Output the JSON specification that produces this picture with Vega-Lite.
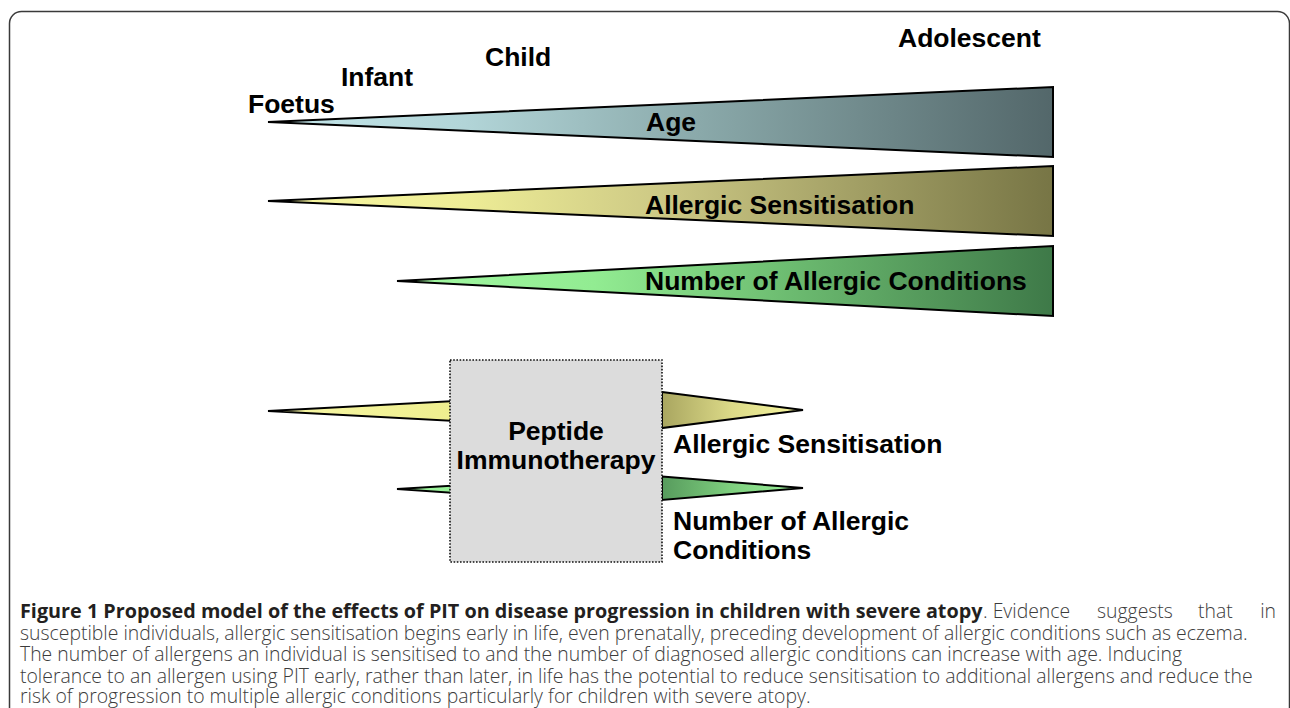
{
  "$schema": "https://vega.github.io/schema/vega-lite/v6.json",
  "width": 1290,
  "height": 708,
  "padding": 0,
  "autosize": {"type": "fit", "contains": "padding"},
  "background": "white",
  "config": {"view": {"stroke": null}},
  "datasets": {
    "frame": [{"x": 9.5, "x2": 1289.5, "y": 11.5, "y2": 760}],
    "box": [{"x": 450, "x2": 662, "y": 360, "y2": 562}],
    "shapes": [
      {"shape": "age", "x": 268, "y": 122, "y2": 122},
      {"shape": "age", "x": 1053, "y": 87, "y2": 157},
      {"shape": "sens", "x": 268, "y": 201, "y2": 201},
      {"shape": "sens", "x": 1053, "y": 166, "y2": 236},
      {"shape": "num", "x": 397, "y": 281, "y2": 281},
      {"shape": "num", "x": 1053, "y": 246, "y2": 316},
      {"shape": "sensIn", "x": 268, "y": 411, "y2": 411},
      {"shape": "sensIn", "x": 455, "y": 401, "y2": 421},
      {"shape": "numIn", "x": 397, "y": 489, "y2": 489},
      {"shape": "numIn", "x": 455, "y": 485.5, "y2": 493},
      {"shape": "sensOut", "x": 662, "y": 392, "y2": 428},
      {"shape": "sensOut", "x": 803, "y": 410, "y2": 410},
      {"shape": "numOut", "x": 662, "y": 476.5, "y2": 500},
      {"shape": "numOut", "x": 803, "y": 488, "y2": 488}
    ],
    "labels": [
      {"kind": "left", "x": 248, "y": 113, "text": "Foetus"},
      {"kind": "left", "x": 341, "y": 86, "text": "Infant"},
      {"kind": "left", "x": 485, "y": 66, "text": "Child"},
      {"kind": "left", "x": 898, "y": 47, "text": "Adolescent"},
      {"kind": "left", "x": 646, "y": 131, "text": "Age"},
      {"kind": "left", "x": 645, "y": 214, "text": "Allergic Sensitisation"},
      {"kind": "left", "x": 645, "y": 290, "text": "Number of Allergic Conditions"},
      {"kind": "left", "x": 673, "y": 453, "text": "Allergic Sensitisation"},
      {"kind": "left", "x": 673, "y": 530, "text": "Number of Allergic"},
      {"kind": "left", "x": 673, "y": 559, "text": "Conditions"},
      {"kind": "center", "x": 556, "y": 440, "text": "Peptide"},
      {"kind": "center", "x": 556, "y": 469, "text": "Immunotherapy"}
    ],
    "caption": [
      {"kind": "bold", "x": 20, "y": 618, "text": "Figure 1 Proposed model of the effects of PIT on disease progression in children with severe atopy"},
      {"kind": "plain", "x": 983, "y": 618, "text": ". Evidence"},
      {"kind": "plain", "x": 1097, "y": 618, "text": "suggests"},
      {"kind": "plain", "x": 1198, "y": 618, "text": "that"},
      {"kind": "tail", "x": 1276, "y": 618, "text": "in"},
      {"kind": "plain", "x": 20, "y": 639.5, "text": "susceptible individuals, allergic sensitisation begins early in life, even prenatally, preceding development of allergic conditions such as eczema."},
      {"kind": "plain", "x": 20, "y": 661, "text": "The number of allergens an individual is sensitised to and the number of diagnosed allergic conditions can increase with age. Inducing"},
      {"kind": "plain", "x": 20, "y": 682.5, "text": "tolerance to an allergen using PIT early, rather than later, in life has the potential to reduce sensitisation to additional allergens and reduce the"},
      {"kind": "plain", "x": 20, "y": 703, "text": "risk of progression to multiple allergic conditions particularly for children with severe atopy."}
    ]
  },
  "encoding": {
    "x": {"field": "x", "type": "quantitative", "axis": null, "scale": {"domain": [0, 1290], "nice": false, "zero": false}},
    "y": {"field": "y", "type": "quantitative", "axis": null, "stack": null, "scale": {"domain": [0, 708], "nice": false, "zero": false, "reverse": true}}
  },
  "layer": [
    {
      "data": {"name": "frame"},
      "mark": {"type": "rect", "fill": null, "stroke": "#3a3a3a", "strokeWidth": 1.5, "cornerRadius": 12, "clip": true},
      "encoding": {"x2": {"field": "x2"}, "y2": {"field": "y2"}}
    },
    {
      "data": {"name": "shapes"},
      "transform": [{"filter": "datum.shape === 'age'"}],
      "mark": {"type": "area", "stroke": "black", "strokeWidth": 2, "fill": {"gradient": "linear", "x1": 0, "y1": 0, "x2": 1, "y2": 0, "stops": [{"offset": 0, "color": "#c4e6ea"}, {"offset": 0.25, "color": "#b2d5d8"}, {"offset": 0.55, "color": "#8aa9aa"}, {"offset": 1, "color": "#53676a"}]}},
      "encoding": {"y2": {"field": "y2"}}
    },
    {
      "data": {"name": "shapes"},
      "transform": [{"filter": "datum.shape === 'sens'"}],
      "mark": {"type": "area", "stroke": "black", "strokeWidth": 2, "fill": {"gradient": "linear", "x1": 0, "y1": 0, "x2": 1, "y2": 0, "stops": [{"offset": 0, "color": "#f8f8a2"}, {"offset": 0.25, "color": "#eeed96"}, {"offset": 0.5, "color": "#cdc985"}, {"offset": 1, "color": "#777545"}]}},
      "encoding": {"y2": {"field": "y2"}}
    },
    {
      "data": {"name": "shapes"},
      "transform": [{"filter": "datum.shape === 'num'"}],
      "mark": {"type": "area", "stroke": "black", "strokeWidth": 2, "fill": {"gradient": "linear", "x1": 0, "y1": 0, "x2": 1, "y2": 0, "stops": [{"offset": 0, "color": "#a2f8a2"}, {"offset": 0.3, "color": "#92ec92"}, {"offset": 0.6, "color": "#6cbb70"}, {"offset": 1, "color": "#3e7948"}]}},
      "encoding": {"y2": {"field": "y2"}}
    },
    {
      "data": {"name": "shapes"},
      "transform": [{"filter": "datum.shape === 'sensIn'"}],
      "mark": {"type": "area", "stroke": "black", "strokeWidth": 2, "fill": {"gradient": "linear", "x1": 0, "y1": 0, "x2": 1, "y2": 0, "stops": [{"offset": 0, "color": "#f8f8a6"}, {"offset": 1, "color": "#eeee8e"}]}},
      "encoding": {"y2": {"field": "y2"}}
    },
    {
      "data": {"name": "shapes"},
      "transform": [{"filter": "datum.shape === 'numIn'"}],
      "mark": {"type": "area", "stroke": "black", "strokeWidth": 2, "fill": {"gradient": "linear", "x1": 0, "y1": 0, "x2": 1, "y2": 0, "stops": [{"offset": 0, "color": "#a6f8a6"}, {"offset": 1, "color": "#96f096"}]}},
      "encoding": {"y2": {"field": "y2"}}
    },
    {
      "data": {"name": "shapes"},
      "transform": [{"filter": "datum.shape === 'sensOut'"}],
      "mark": {"type": "area", "stroke": "black", "strokeWidth": 2, "fill": {"gradient": "linear", "x1": 0, "y1": 0, "x2": 1, "y2": 0, "stops": [{"offset": 0, "color": "#a9a660"}, {"offset": 0.5, "color": "#dcda88"}, {"offset": 1, "color": "#f8f8a2"}]}},
      "encoding": {"y2": {"field": "y2"}}
    },
    {
      "data": {"name": "shapes"},
      "transform": [{"filter": "datum.shape === 'numOut'"}],
      "mark": {"type": "area", "stroke": "black", "strokeWidth": 2, "fill": {"gradient": "linear", "x1": 0, "y1": 0, "x2": 1, "y2": 0, "stops": [{"offset": 0, "color": "#579b5d"}, {"offset": 0.5, "color": "#7fd07f"}, {"offset": 1, "color": "#9cf29c"}]}},
      "encoding": {"y2": {"field": "y2"}}
    },
    {
      "data": {"name": "box"},
      "mark": {"type": "rect", "fill": "#dcdcdc", "stroke": "#111", "strokeWidth": 1.6, "strokeDash": [1.6, 1.6]},
      "encoding": {"x2": {"field": "x2"}, "y2": {"field": "y2"}}
    },
    {
      "data": {"name": "labels"},
      "transform": [{"filter": "datum.kind === 'left'"}],
      "mark": {"type": "text", "align": "left", "baseline": "alphabetic", "font": "Liberation Sans", "fontWeight": "bold", "fontSize": 26.5, "color": "#000"},
      "encoding": {"text": {"field": "text"}}
    },
    {
      "data": {"name": "labels"},
      "transform": [{"filter": "datum.kind === 'center'"}],
      "mark": {"type": "text", "align": "center", "baseline": "alphabetic", "font": "Liberation Sans", "fontWeight": "bold", "fontSize": 26.5, "color": "#000"},
      "encoding": {"text": {"field": "text"}}
    },
    {
      "data": {"name": "caption"},
      "transform": [{"filter": "datum.kind === 'bold'"}],
      "mark": {"type": "text", "align": "left", "baseline": "alphabetic", "font": "Open Sans", "fontWeight": "bold", "fontSize": 19.8, "color": "#231f20"},
      "encoding": {"text": {"field": "text"}}
    },
    {
      "data": {"name": "caption"},
      "transform": [{"filter": "datum.kind === 'tail'"}],
      "mark": {"type": "text", "align": "right", "baseline": "alphabetic", "font": "Open Sans", "fontWeight": 300, "fontSize": 19.4, "color": "#3c3c3c"},
      "encoding": {"text": {"field": "text"}}
    },
    {
      "data": {"name": "caption"},
      "transform": [{"filter": "datum.kind === 'plain'"}],
      "mark": {"type": "text", "align": "left", "baseline": "alphabetic", "font": "Open Sans", "fontWeight": 300, "fontSize": 19.4, "color": "#3c3c3c"},
      "encoding": {"text": {"field": "text"}}
    }
  ]
}
